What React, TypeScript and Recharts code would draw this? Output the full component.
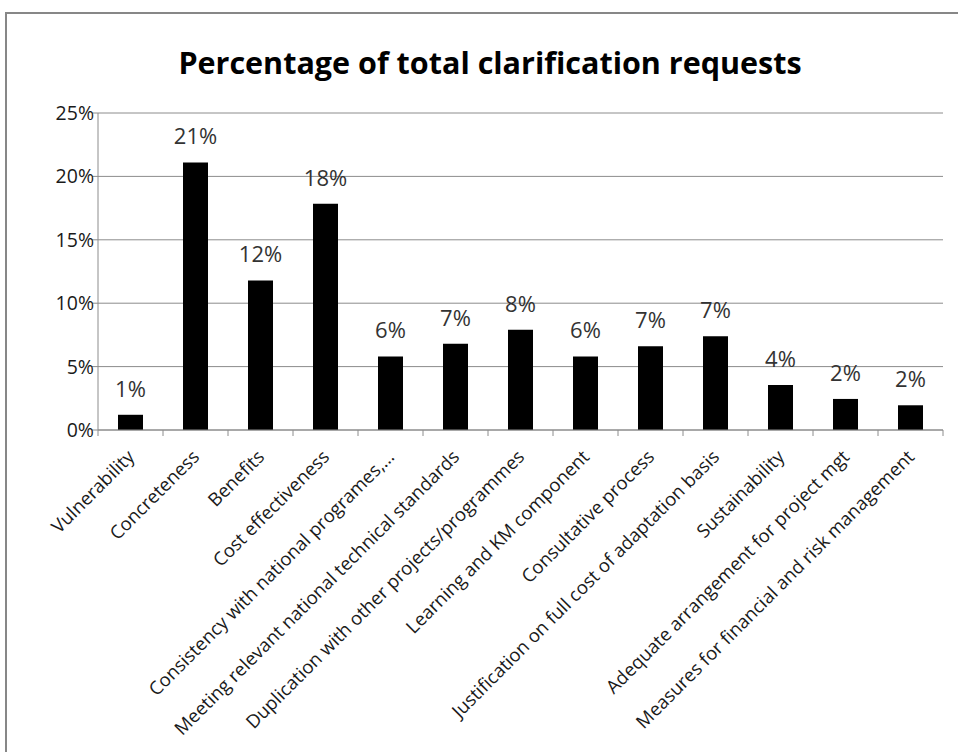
import { Bar, BarChart, CartesianGrid, LabelList, XAxis, YAxis } from 'recharts'

const categories = [
  'Vulnerability',
  'Concreteness',
  'Benefits',
  'Cost effectiveness',
  'Consistency with national programes,…',
  'Meeting relevant national technical standards',
  'Duplication with other projects/programmes',
  'Learning and KM component',
  'Consultative process',
  'Justification on full cost of adaptation basis',
  'Sustainability',
  'Adequate arrangement for project mgt',
  'Measures for financial and risk management',
]

const shares = [1.2, 21.1, 11.8, 17.85, 5.8, 6.8, 7.9, 5.8, 6.6, 7.4, 3.55, 2.45, 1.95]

const yTicks = [0, 5, 10, 15, 20, 25]

const data = categories.map((name, i) => ({ name, share: shares[i] }))

const FONT = '"Open Sans", Lato, sans-serif'
const GRID = '#8c8c8c'
const W = 958
const H = 752
const PLOT_LEFT = 98
const PLOT_RIGHT = 15
const BAND = (W - PLOT_LEFT - PLOT_RIGHT) / categories.length

function CategoryTick(props: any) {
  const { x, y, payload, index } = props
  const half = BAND / 2
  const tx = x + 5
  const ty = y + 28
  return (
    <g>
      <line x1={x - half} y1={y} x2={x - half} y2={y + 6} stroke={GRID} />
      {index === categories.length - 1 && (
        <line x1={x + half} y1={y} x2={x + half} y2={y + 6} stroke={GRID} />
      )}
      <text
        x={tx}
        y={ty}
        textAnchor='end'
        fontSize={18.5}
        fill='#1a1a1a'
        fontFamily={FONT}
        transform={`rotate(-45, ${tx}, ${ty})`}
      >
        {payload.value}
      </text>
    </g>
  )
}

export default function App() {
  return (
    <div
      style={{
        position: 'fixed',
        left: 0,
        top: 0,
        width: W,
        height: H,
        overflow: 'hidden',
        background: '#fff',
        fontFamily: FONT,
      }}
    >
      <div
        style={{
          position: 'absolute',
          left: 5,
          top: 12,
          width: W,
          height: H,
          border: '2px solid #878787',
          boxSizing: 'border-box',
        }}
      />
      <div
        style={{
          position: 'absolute',
          left: 0,
          top: 42,
          width: 980,
          textAlign: 'center',
          fontSize: 30.5,
          lineHeight: '40px',
          fontWeight: 700,
          color: '#000',
        }}
      >
        Percentage of total clarification requests
      </div>
      <div style={{ position: 'absolute', left: 0, top: 0 }}>
        <BarChart
          width={W}
          height={H}
          data={data}
          margin={{ top: 113, right: PLOT_RIGHT, bottom: 22, left: 0 }}
          barCategoryGap={0}
        >
          <CartesianGrid vertical={false} stroke={GRID} />
          <XAxis
            dataKey='name'
            interval={0}
            height={300}
            tickSize={0}
            tickMargin={0}
            tickLine={false}
            axisLine={{ stroke: GRID }}
            tick={<CategoryTick />}
          />
          <YAxis
            width={PLOT_LEFT}
            domain={[0, 25]}
            ticks={yTicks}
            tickFormatter={(v: number) => `${v}%`}
            tickSize={6}
            tickMargin={-2}
            axisLine={{ stroke: GRID }}
            tickLine={{ stroke: GRID }}
            tick={{ fontSize: 19.5, fill: '#1a1a1a', fontFamily: FONT }}
          />
          <Bar dataKey='share' fill='#000' barSize={25} isAnimationActive={false}>
            <LabelList
              dataKey='share'
              position='top'
              offset={18}
              formatter={(v: any) => `${Math.round(Number(v))}%`}
              style={{ fontSize: 22, fill: '#333', fontFamily: FONT }}
            />
          </Bar>
        </BarChart>
      </div>
    </div>
  )
}
